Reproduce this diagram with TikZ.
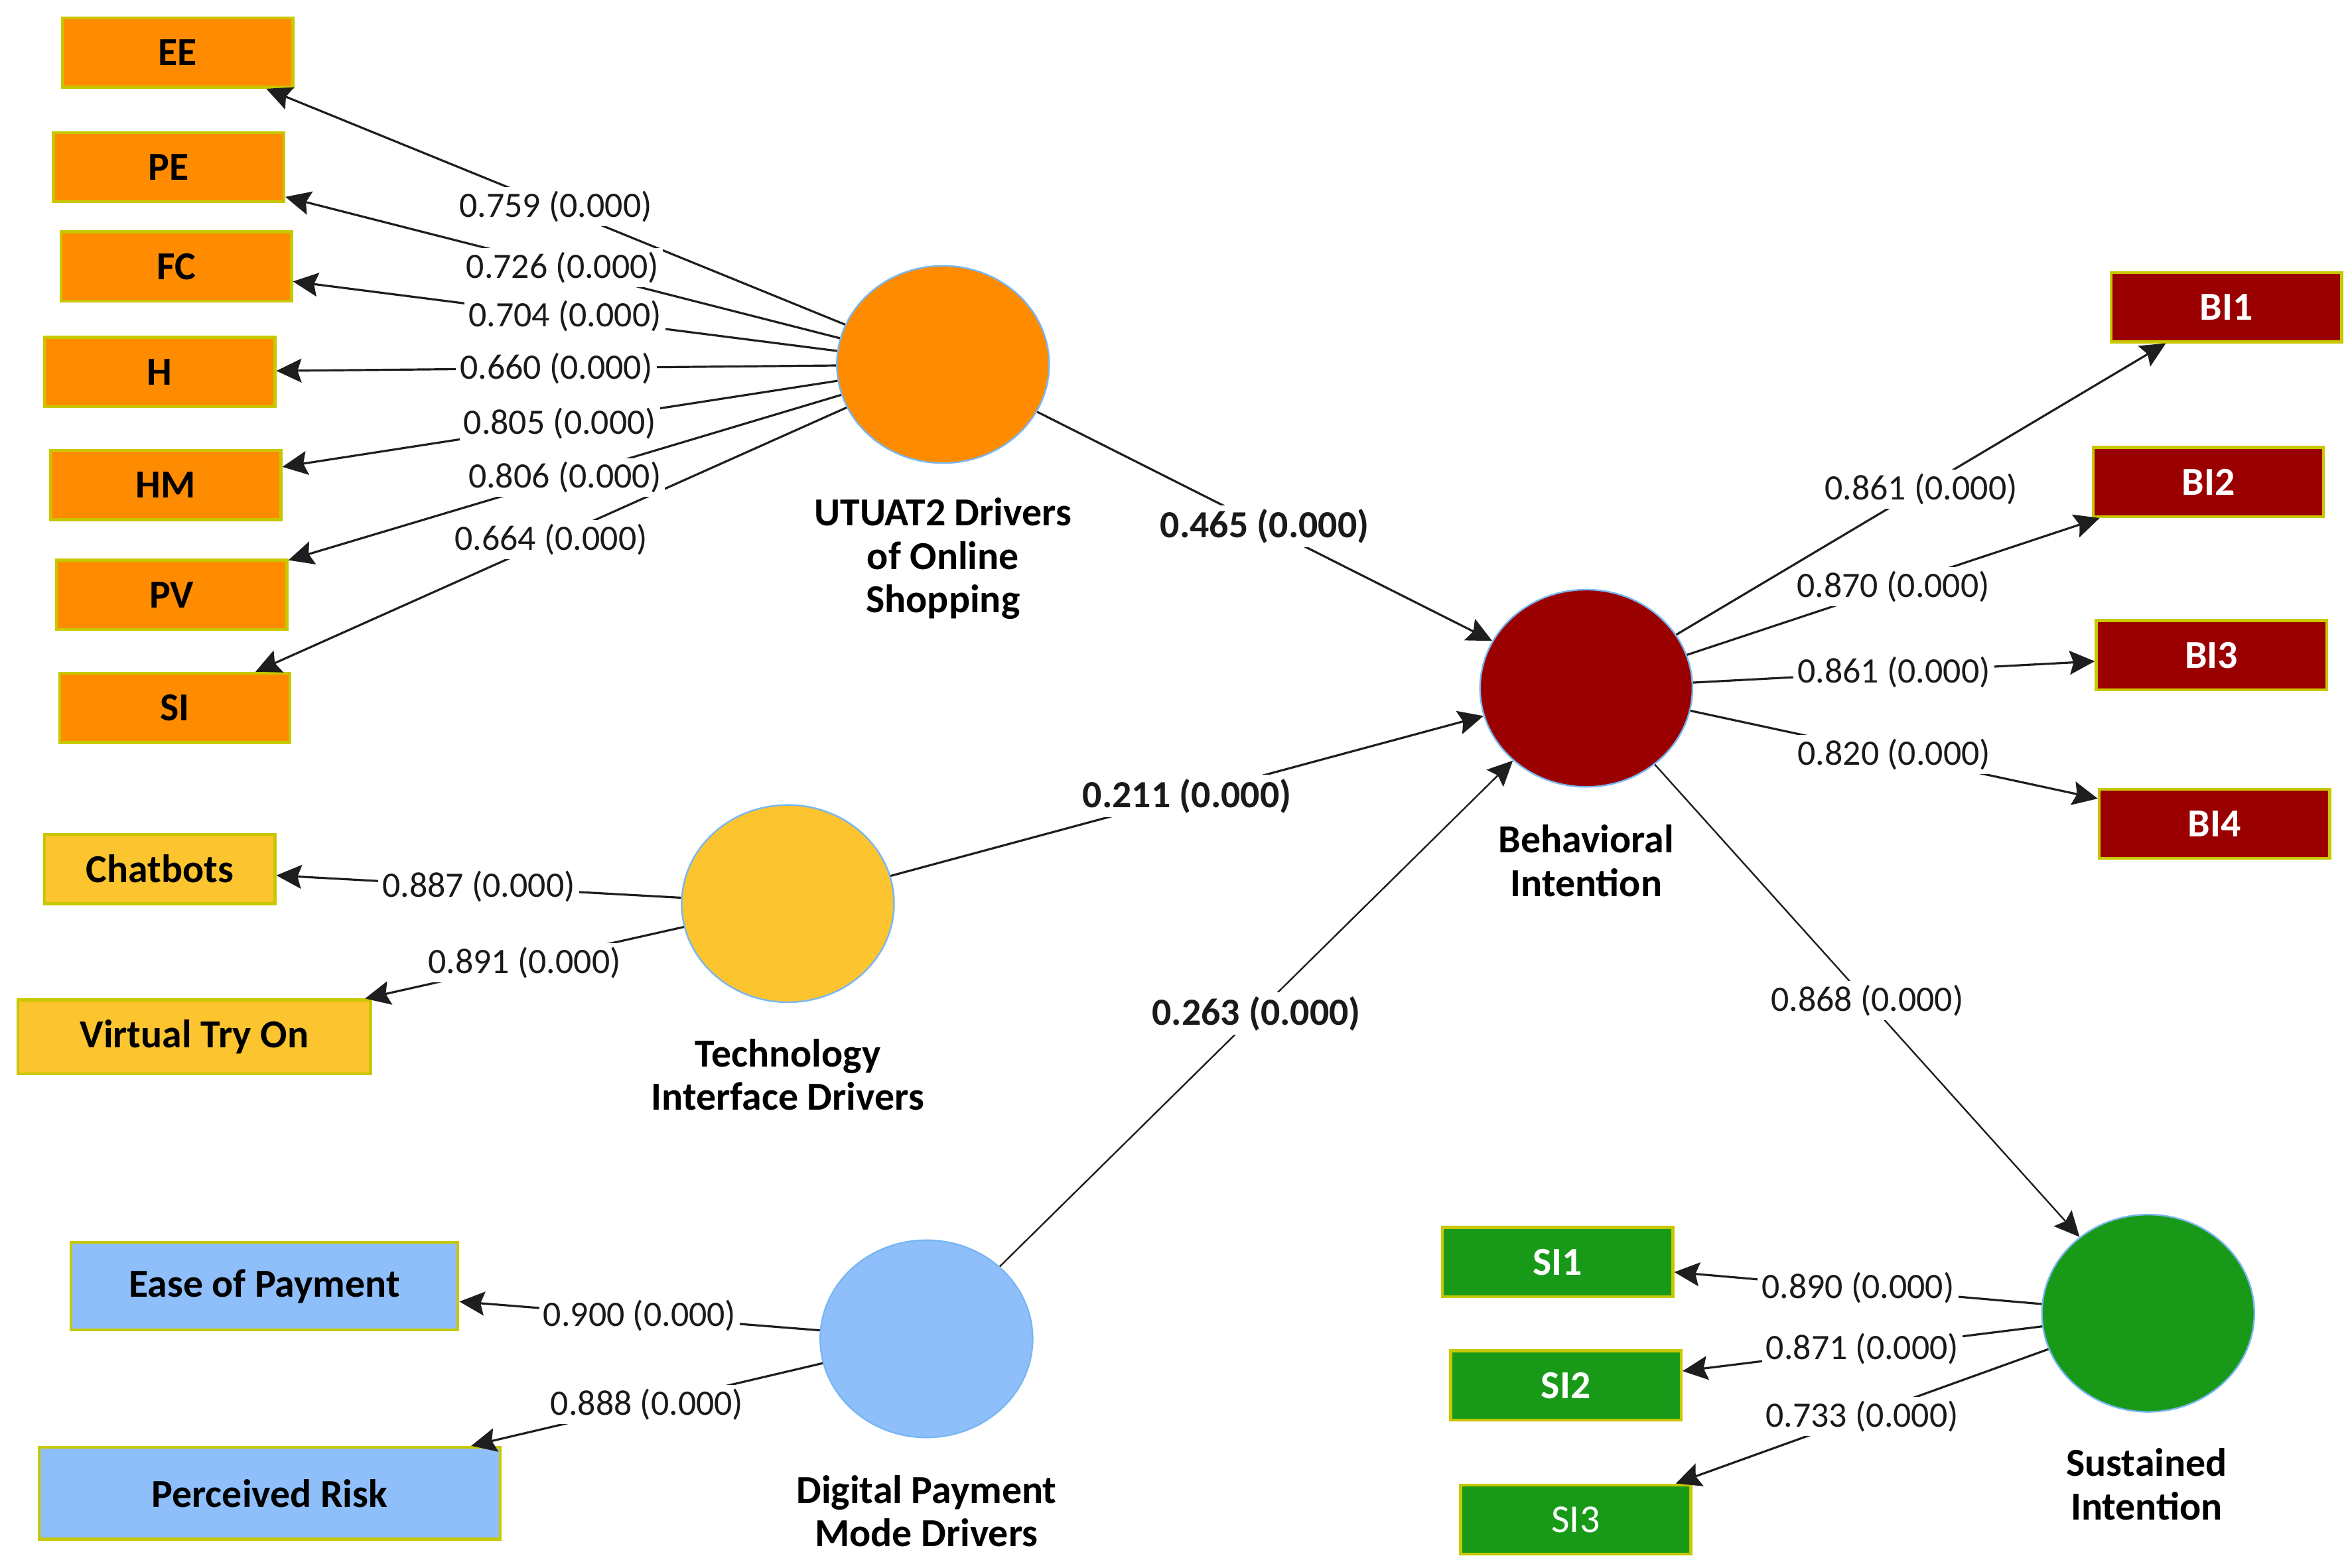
\documentclass[tikz,border=0pt]{standalone}
\usepackage{fontspec}
\setmainfont{Carlito}
\usetikzlibrary{shapes.geometric,arrows.meta}
\definecolor{orangec}{HTML}{FF8C00}
\definecolor{redc}{HTML}{9B0000}
\definecolor{yellowc}{HTML}{FCC42E}
\definecolor{bluec}{HTML}{8FBFFA}
\definecolor{greenc}{HTML}{189A18}
\definecolor{boxborder}{HTML}{C8C800}
\definecolor{lvborder}{HTML}{78B6F2}
\definecolor{linecol}{HTML}{1E1E1E}
\definecolor{labelcol}{HTML}{1A1A1A}
\begin{document}
\begin{tikzpicture}[x=0.02cm,y=-0.02cm,
  box/.style={draw=boxborder, line width=1.1pt, minimum width=3.06cm, minimum height=0.92cm, inner sep=0pt, font=\fontsize{15}{18}\selectfont\bfseries},
  lv/.style={ellipse, draw=lvborder, line width=0.6pt, minimum width=2.82cm, minimum height=2.62cm, inner sep=0pt},
  lvcap/.style={align=center, font=\fontsize{15}{16.4}\selectfont\bfseries, inner sep=0pt},
  conn/.style={draw=linecol, line width=0.8pt, -{Stealth[length=9.5pt,width=9pt,inset=1.5pt]}},
  lbl/.style={fill=white, inner sep=1.5pt, font=\fontsize{13.5}{15}\selectfont, text=labelcol},
  blbl/.style={lbl, font=\fontsize{14.5}{16}\selectfont\bfseries}
]
\useasboundingbox (0,0) rectangle (1560,1040.75);

% indicator boxes
\node[box, fill=orangec] (ee) at (118,35) {EE};
\node[box, fill=orangec] (pe) at (112,111) {PE};
\node[box, fill=orangec] (fc) at (117,177) {FC};
\node[box, fill=orangec] (h) at (106,247) {H};
\node[box, fill=orangec] (hm) at (110,322) {HM};
\node[box, fill=orangec] (pv) at (114,395) {PV};
\node[box, fill=orangec] (si) at (116,470) {SI};

\node[box, fill=redc, text=white] (bi1) at (1478,204) {BI1};
\node[box, fill=redc, text=white] (bi2) at (1466,320) {BI2};
\node[box, fill=redc, text=white] (bi3) at (1468,435) {BI3};
\node[box, fill=redc, text=white] (bi4) at (1470,547) {BI4};

\node[box, fill=yellowc] (cb) at (106,577) {Chatbots};
\node[box, fill=yellowc, minimum width=4.68cm, minimum height=0.98cm] (vt) at (129,688.5) {Virtual Try On};

\node[box, fill=bluec, minimum width=5.14cm, minimum height=1.16cm] (ep) at (175.5,854) {Ease of Payment};
\node[box, fill=bluec, minimum width=6.12cm, minimum height=1.22cm] (pr) at (179,991.5) {Perceived Risk};

\node[box, fill=greenc, text=white] (s1) at (1034,838) {SI1};
\node[box, fill=greenc, text=white] (s2) at (1039.5,920) {SI2};
\node[box, fill=greenc, text=white, font=\fontsize{15}{18}\selectfont] (s3) at (1046,1009) {SI3};

% latent variables
\node[lv, fill=orangec] (u) at (626,242) {};
\node[lv, fill=redc] (bi) at (1053,457) {};
\node[lv, fill=yellowc] (t) at (523,600) {};
\node[lv, fill=bluec] (d) at (615,889) {};
\node[lv, fill=greenc] (s) at (1426,872) {};

% captions
\node[lvcap] (ucap) at (626,371) {UTUAT2 Drivers\\of Online\\Shopping};
\node[lvcap] (bicap) at (1053,571.5) {Behavioral\\Intention};
\node[lvcap] (tcap) at (523,713.5) {Technology\\Interface Drivers};
\node[lvcap] (dcap) at (615,1003.5) {Digital Payment\\Mode Drivers};
\node[lvcap] (scap) at (1425,985.5) {Sustained\\Intention};

% connectors
\draw[conn] (u) -- (ee);
\draw[conn] (u) -- (pe);
\draw[conn] (u) -- (fc);
\draw[conn] (u) -- (h);
\draw[conn] (u) -- (hm);
\draw[conn] (u) -- (pv);
\draw[conn] (u) -- (si);
\draw[conn] (u) -- (bi);
\draw[conn] (t) -- (bi);
\draw[conn, line width=0.6pt] (d) -- (bi);
\draw[conn, line width=0.6pt] (bi) -- (s);
\draw[conn] (bi) -- (bi1);
\draw[conn] (bi) -- (bi2);
\draw[conn] (bi) -- (bi3);
\draw[conn] (bi) -- (bi4);
\draw[conn] (t) -- (cb);
\draw[conn] (t) -- (vt);
\draw[conn] (d) -- (ep);
\draw[conn] (d) -- (pr);
\draw[conn] (s) -- (s1);
\draw[conn] (s) -- (s2);
\draw[conn] (s) -- (s3);

% labels
\path (u) -- node[lbl] {0.759 (0.000)} (ee);
\path (u) -- node[lbl] {0.726 (0.000)} (pe);
\path (u) -- node[lbl] {0.704 (0.000)} (fc);
\path (u) -- node[lbl] {0.660 (0.000)} (h);
\path (u) -- node[lbl] {0.805 (0.000)} (hm);
\path (u) -- node[lbl] {0.806 (0.000)} (pv);
\path (u) -- node[lbl] {0.664 (0.000)} (si);
\path (u) -- node[blbl] {0.465 (0.000)} (bi);
\path (t) -- node[blbl] {0.211 (0.000)} (bi);
\path (d) -- node[blbl] {0.263 (0.000)} (bi);
\path (bi) -- node[lbl] {0.868 (0.000)} (s);
\path (bi) -- node[lbl] {0.861 (0.000)} (bi1);
\path (bi) -- node[lbl] {0.870 (0.000)} (bi2);
\path (bi) -- node[lbl] {0.861 (0.000)} (bi3);
\path (bi) -- node[lbl] {0.820 (0.000)} (bi4);
\path (t) -- node[lbl] {0.887 (0.000)} (cb);
\path (t) -- node[lbl] {0.891 (0.000)} (vt);
\path (d) -- node[lbl] {0.900 (0.000)} (ep);
\path (d) -- node[lbl] {0.888 (0.000)} (pr);
\path (s) -- node[lbl] {0.890 (0.000)} (s1);
\path (s) -- node[lbl] {0.871 (0.000)} (s2);
\path (s) -- node[lbl] {0.733 (0.000)} (s3);
\end{tikzpicture}
\end{document}
